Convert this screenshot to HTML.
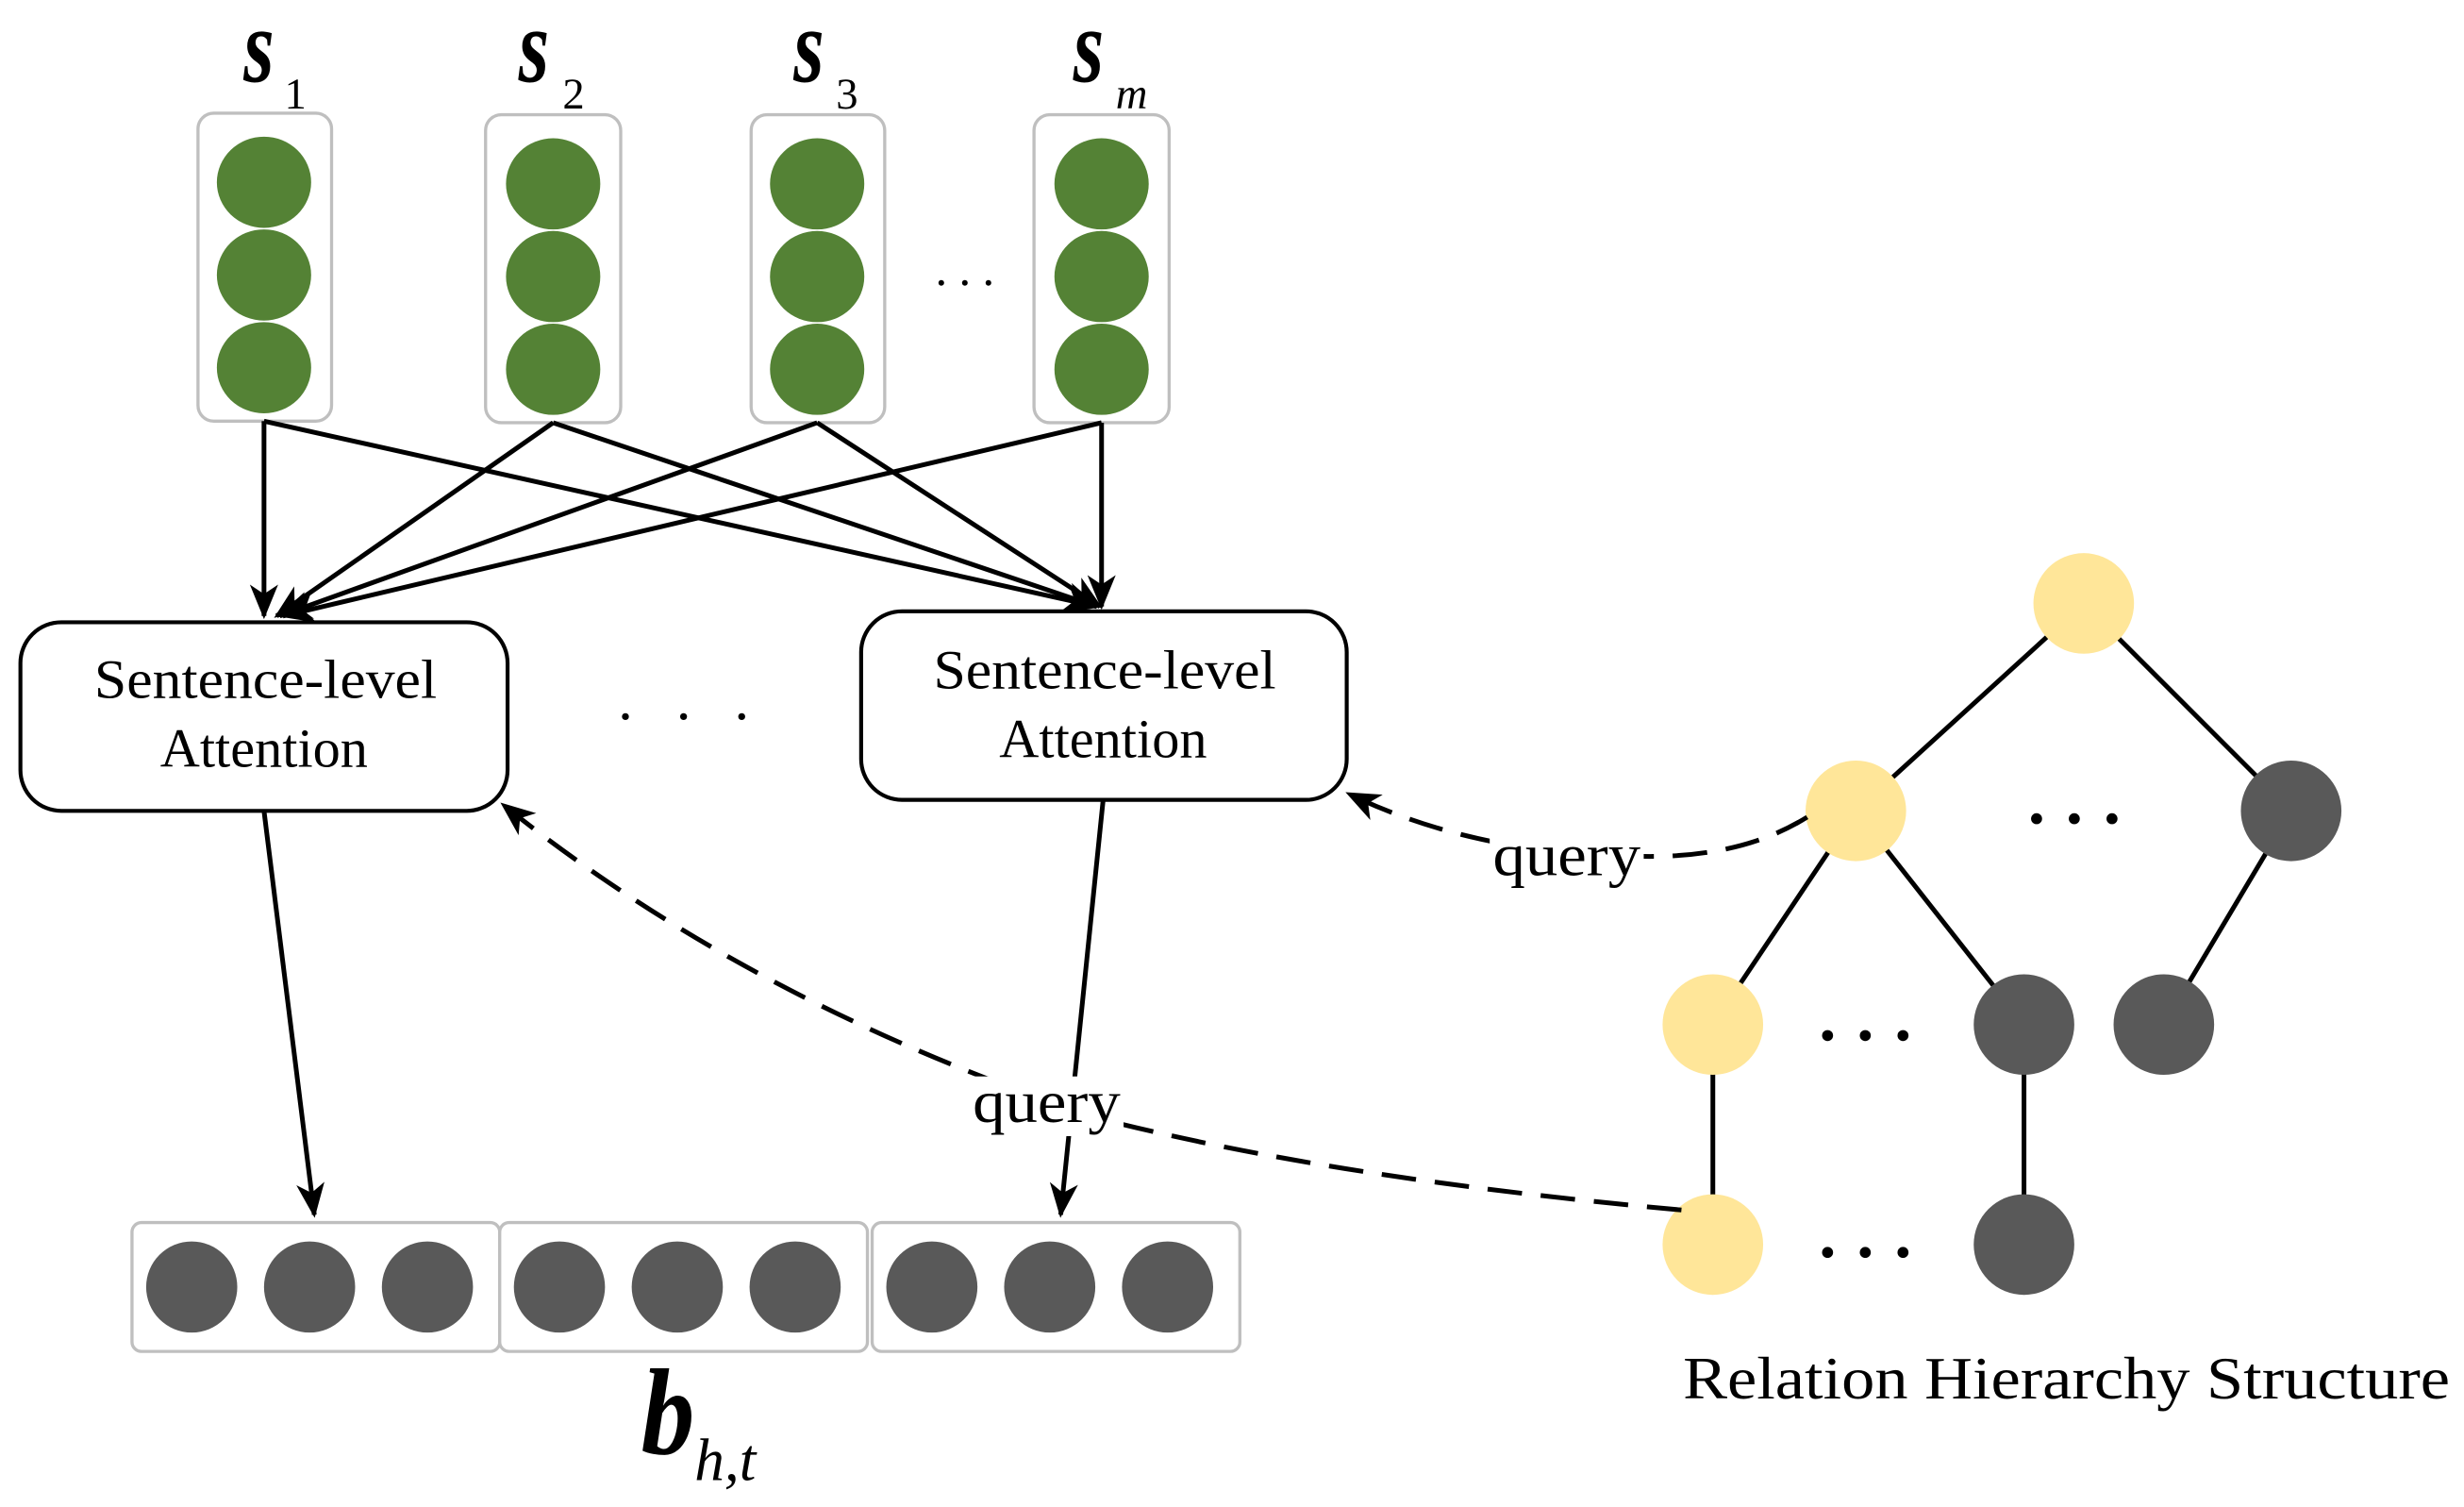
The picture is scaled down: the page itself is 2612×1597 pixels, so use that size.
<!DOCTYPE html>
<html><head><meta charset="utf-8"><style>
html,body{margin:0;padding:0;background:#fff;}
svg{display:block;}
</style></head><body>
<svg width="2612" height="1597" viewBox="0 0 1568 959" preserveAspectRatio="none" xmlns="http://www.w3.org/2000/svg">
<defs>
<marker id="b" markerWidth="22" markerHeight="22" refX="20" refY="11" orient="auto" markerUnits="userSpaceOnUse" viewBox="0 0 22 22">
<path d="M0,2 L22,11 L0,20 L6,11 z" fill="#000"/>
</marker>
</defs>
<g font-family="Liberation Serif, serif" font-style="italic" font-weight="bold" font-size="50">
<text transform="translate(155,52) scale(1,1.35)">s</text>
<text transform="translate(330,52) scale(1,1.35)">s</text>
<text transform="translate(505,52) scale(1,1.35)">s</text>
<text transform="translate(683,52) scale(1,1.35)">s</text>
</g>
<g font-family="Liberation Serif, serif" font-size="28">
<text x="181" y="69">1</text><text x="358" y="69">2</text><text x="532" y="69">3</text><text x="710" y="69" font-style="italic">m</text>
</g>
<g fill="#fff" stroke="#bfbfbf" stroke-width="2">
<rect x="126" y="72" width="85" height="196" rx="10"/>
<rect x="309" y="73" width="86" height="196" rx="10"/>
<rect x="478" y="73" width="85" height="196" rx="10"/>
<rect x="658" y="73" width="86" height="196" rx="10"/>
</g>
<g fill="#548235">
<ellipse cx="168" cy="116" rx="30" ry="29"/><ellipse cx="168" cy="175" rx="30" ry="29"/><ellipse cx="168" cy="234" rx="30" ry="29"/>
<ellipse cx="352" cy="117" rx="30" ry="29"/><ellipse cx="352" cy="176" rx="30" ry="29"/><ellipse cx="352" cy="235" rx="30" ry="29"/>
<ellipse cx="520" cy="117" rx="30" ry="29"/><ellipse cx="520" cy="176" rx="30" ry="29"/><ellipse cx="520" cy="235" rx="30" ry="29"/>
<ellipse cx="701" cy="117" rx="30" ry="29"/><ellipse cx="701" cy="176" rx="30" ry="29"/><ellipse cx="701" cy="235" rx="30" ry="29"/>
</g>
<g fill="#000"><circle cx="599" cy="180" r="1.8"/><circle cx="614" cy="180" r="1.8"/><circle cx="629" cy="180" r="1.8"/></g>
<g stroke="#000" stroke-width="3" marker-end="url(#b)" fill="none">
<line x1="168" y1="268" x2="168" y2="392"/>
<line x1="168" y1="268" x2="698" y2="386"/>
<line x1="352" y1="269" x2="176" y2="392"/>
<line x1="352" y1="269" x2="698" y2="386"/>
<line x1="520" y1="269" x2="178" y2="392"/>
<line x1="520" y1="269" x2="700" y2="386"/>
<line x1="701" y1="269" x2="180" y2="392"/>
<line x1="701" y1="269" x2="701" y2="386"/>
<line x1="168" y1="516" x2="200" y2="773"/>
<line x1="702" y1="509" x2="675" y2="773"/>
</g>
<g fill="#fff" stroke="#000" stroke-width="2.5">
<rect x="13" y="396" width="310" height="120" rx="26"/>
<rect x="548" y="389" width="309" height="120" rx="26"/>
</g>
<g font-family="Liberation Serif, serif" font-size="35" text-anchor="middle">
<text x="169" y="444" textLength="218" lengthAdjust="spacingAndGlyphs">Sentence-level</text><text x="168" y="488">Attention</text>
<text x="703" y="438" textLength="218" lengthAdjust="spacingAndGlyphs">Sentence-level</text><text x="702" y="482">Attention</text>
</g>
<g fill="#000"><circle cx="398" cy="456" r="2.2"/><circle cx="435" cy="456" r="2.2"/><circle cx="472" cy="456" r="2.2"/></g>
<g fill="#fff" stroke="#bfbfbf" stroke-width="2">
<rect x="84" y="778" width="234" height="82" rx="6"/>
<rect x="318" y="778" width="234" height="82" rx="6"/>
<rect x="555" y="778" width="234" height="82" rx="6"/>
</g>
<g fill="#595959">
<circle cx="122" cy="819" r="29"/><circle cx="197" cy="819" r="29"/><circle cx="272" cy="819" r="29"/>
<circle cx="356" cy="819" r="29"/><circle cx="431" cy="819" r="29"/><circle cx="506" cy="819" r="29"/>
<circle cx="593" cy="819" r="29"/><circle cx="668" cy="819" r="29"/><circle cx="743" cy="819" r="29"/>
</g>
<text transform="translate(408,925) scale(1,1.15)" font-family="Liberation Serif, serif" font-style="italic" font-weight="bold" font-size="68">b</text>
<text x="442" y="942" font-family="Liberation Serif, serif" font-style="italic" font-size="38">h,t</text>
<g stroke="#000" stroke-width="3">
<line x1="1326" y1="384" x2="1181" y2="516"/><line x1="1326" y1="384" x2="1458" y2="516"/>
<line x1="1181" y1="516" x2="1090" y2="652"/><line x1="1181" y1="516" x2="1288" y2="652"/>
<line x1="1458" y1="516" x2="1377" y2="652"/>
<line x1="1090" y1="652" x2="1090" y2="792"/><line x1="1288" y1="652" x2="1288" y2="792"/>
</g>
<g fill="#FFE699">
<circle cx="1326" cy="384" r="32"/><circle cx="1181" cy="516" r="32"/><circle cx="1090" cy="652" r="32"/><circle cx="1090" cy="792" r="32"/>
</g>
<g fill="#595959">
<circle cx="1458" cy="516" r="32"/><circle cx="1288" cy="652" r="32"/><circle cx="1377" cy="652" r="32"/><circle cx="1288" cy="792" r="32"/>
</g>
<g fill="#000">
<circle cx="1296" cy="521" r="3.5"/><circle cx="1320" cy="521" r="3.5"/><circle cx="1344" cy="521" r="3.5"/>
<circle cx="1163" cy="659" r="3.5"/><circle cx="1187" cy="659" r="3.5"/><circle cx="1211" cy="659" r="3.5"/>
<circle cx="1163" cy="797" r="3.5"/><circle cx="1187" cy="797" r="3.5"/><circle cx="1211" cy="797" r="3.5"/>
</g>
<g fill="none" stroke="#000" stroke-width="3" stroke-dasharray="22,12">
<path d="M1150,520 Q1110,545 1050,545 Q940,545 858,505" marker-end="url(#b)"/>
<path d="M1070,770 Q850,750 700,712 Q480,640 320,512" marker-end="url(#b)"/>
</g>
<rect x="948" y="530" width="98" height="36" fill="#fff"/>
<rect x="615" y="685" width="100" height="38" fill="#fff"/>
<g font-family="Liberation Serif, serif" font-size="38" text-anchor="middle">
<text x="997" y="557" textLength="94" lengthAdjust="spacingAndGlyphs">query</text>
<text x="666" y="714" textLength="94" lengthAdjust="spacingAndGlyphs">query</text>
<text x="1315" y="890" textLength="488" lengthAdjust="spacingAndGlyphs">Relation Hierarchy Structure</text>
</g>
</svg>
</body></html>
